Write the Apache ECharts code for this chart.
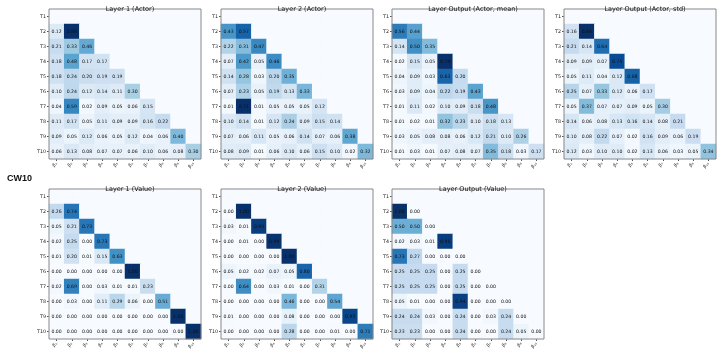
<!DOCTYPE html>
<html>
<head>
<meta charset="utf-8">
<script src="https://cdn.jsdelivr.net/npm/echarts@6/dist/echarts.min.js"></script>
<style>html,body{margin:0;padding:0;background:#fff;}#c{width:720px;height:352px;}</style>
</head>
<body>
<div id="c"></div>
<script>
const rowLabels = ['T1','T2','T3','T4','T5','T6','T7','T8','T9','T10'];
const colLabels = ['β₁','β₂','β₃','β₄','β₅','β₆','β₇','β₈','β₉','β₁₀'];
const titles = ['Layer 1 (Actor)','Layer 2 (Actor)','Layer Output (Actor, mean)','Layer Output (Actor, std)','Layer 1 (Value)','Layer 2 (Value)','Layer Output (Value)'];

const layer1Actor = [
  [],
  [0.12,0.88],
  [0.21,0.33,0.46],
  [0.18,0.48,0.17,0.17],
  [0.18,0.24,0.20,0.19,0.19],
  [0.10,0.24,0.12,0.14,0.11,0.30],
  [0.04,0.59,0.02,0.09,0.05,0.06,0.15],
  [0.11,0.17,0.05,0.11,0.09,0.09,0.16,0.22],
  [0.09,0.05,0.12,0.06,0.05,0.12,0.04,0.06,0.40],
  [0.06,0.13,0.08,0.07,0.07,0.06,0.10,0.06,0.08,0.30]
];
const layer2Actor = [
  [],
  [0.43,0.57],
  [0.22,0.31,0.47],
  [0.07,0.42,0.05,0.46],
  [0.14,0.28,0.03,0.20,0.35],
  [0.07,0.23,0.05,0.19,0.13,0.33],
  [0.01,0.71,0.01,0.05,0.05,0.05,0.12],
  [0.10,0.14,0.01,0.12,0.24,0.09,0.15,0.14],
  [0.07,0.06,0.11,0.05,0.06,0.14,0.07,0.06,0.38],
  [0.08,0.09,0.01,0.06,0.10,0.06,0.15,0.10,0.02,0.32]
];
const outActorMean = [
  [],
  [0.56,0.44],
  [0.14,0.50,0.35],
  [0.02,0.15,0.05,0.79],
  [0.04,0.09,0.03,0.63,0.20],
  [0.03,0.09,0.04,0.22,0.19,0.43],
  [0.01,0.11,0.02,0.10,0.09,0.18,0.48],
  [0.01,0.02,0.01,0.32,0.23,0.10,0.18,0.13],
  [0.03,0.05,0.08,0.08,0.06,0.12,0.21,0.10,0.26],
  [0.01,0.03,0.01,0.07,0.08,0.07,0.35,0.18,0.03,0.17]
];
const outActorStd = [
  [],
  [0.16,0.84],
  [0.21,0.14,0.64],
  [0.09,0.09,0.07,0.75],
  [0.05,0.11,0.04,0.12,0.68],
  [0.25,0.07,0.33,0.12,0.06,0.17],
  [0.05,0.37,0.07,0.07,0.09,0.05,0.30],
  [0.14,0.06,0.08,0.13,0.16,0.14,0.08,0.21],
  [0.10,0.08,0.22,0.07,0.02,0.16,0.09,0.06,0.19],
  [0.12,0.03,0.10,0.10,0.02,0.13,0.06,0.03,0.05,0.34]
];
const layer1Value = [
  [],
  [0.26,0.74],
  [0.05,0.21,0.73],
  [0.02,0.25,0.00,0.73],
  [0.01,0.20,0.01,0.15,0.63],
  [0.00,0.00,0.00,0.00,0.00,1.00],
  [0.02,0.69,0.00,0.03,0.01,0.01,0.23],
  [0.00,0.03,0.00,0.11,0.29,0.06,0.00,0.51],
  [0.00,0.00,0.00,0.00,0.00,0.00,0.00,0.00,1.00],
  [0.00,0.00,0.00,0.00,0.00,0.00,0.00,0.00,0.00,1.00]
];
const layer2Value = [
  [],
  [0.00,1.00],
  [0.03,0.01,0.95],
  [0.00,0.01,0.00,0.99],
  [0.00,0.00,0.00,0.00,1.00],
  [0.05,0.02,0.02,0.07,0.05,0.80],
  [0.00,0.64,0.00,0.03,0.01,0.00,0.31],
  [0.00,0.00,0.00,0.00,0.46,0.00,0.00,0.54],
  [0.01,0.00,0.00,0.00,0.08,0.00,0.00,0.00,0.92],
  [0.00,0.00,0.00,0.00,0.28,0.00,0.00,0.01,0.00,0.71]
];
const outValue = [
  [],
  [1.00,0.00],
  [0.50,0.50,0.00],
  [0.02,0.03,0.01,0.95],
  [0.73,0.27,0.00,0.00,0.00],
  [0.25,0.25,0.25,0.00,0.25,0.00],
  [0.25,0.25,0.25,0.00,0.25,0.00,0.00],
  [0.05,0.01,0.00,0.00,0.94,0.00,0.00,0.00],
  [0.24,0.24,0.03,0.00,0.24,0.00,0.03,0.24,0.00],
  [0.23,0.23,0.00,0.00,0.24,0.00,0.00,0.24,0.05,0.00]
];
const panels = [layer1Actor, layer2Actor, outActorMean, outActorStd, layer1Value, layer2Value, outValue];

const blues = ['#f7fbff','#deebf7','#c6dbef','#9ecae1','#6baed6','#4292c6','#2171b5','#08519c','#08306b'];
const lefts = [49, 221, 392, 564];
const W = 152, TOPS = [9, 189], H = 150;
const font = 'DejaVu Sans';

const grid = [], xAxis = [], yAxis = [], series = [], visualMap = [], title = [];
panels.forEach((mat, p) => {
  const r = p < 4 ? 0 : 1, c = p < 4 ? p : p - 4;
  grid.push({left: lefts[c], top: TOPS[r], width: W, height: H, show: true, borderColor: '#888', borderWidth: 1, backgroundColor: 'transparent', z: 5});
  xAxis.push({type: 'category', gridIndex: p, data: colLabels, position: 'bottom',
    axisLine: {show: false}, axisTick: {show: true, alignWithLabel: true, length: 2, lineStyle: {color: '#555'}},
    axisLabel: {fontSize: 4.5, rotate: 45, color: '#222', fontFamily: font, margin: 4}, splitLine: {show: false}});
  yAxis.push({type: 'category', gridIndex: p, data: rowLabels, inverse: true,
    axisLine: {show: false}, axisTick: {show: true, alignWithLabel: true, length: 2, lineStyle: {color: '#555'}},
    axisLabel: {fontSize: 4.8, color: '#222', fontFamily: font, margin: 3}, splitLine: {show: false}});
  const data = [];
  let mx = 0;
  for (let i = 0; i < 10; i++) {
    for (let j = 0; j < 10; j++) {
      const v = (j < mat[i].length) ? mat[i][j] : 0;
      mx = Math.max(mx, v);
      const lab = j < mat[i].length;
      data.push({value: [j, i, v], label: {show: lab}});
    }
  }
  series.push({type: 'heatmap', xAxisIndex: p, yAxisIndex: p, data: data,
    label: {show: true, fontSize: 4.6, color: '#111', fontFamily: font, formatter: (d) => d.value[2].toFixed(2)},
    itemStyle: {borderWidth: 0}, emphasis: {disabled: true}});
  visualMap.push({type: 'continuous', show: false, min: 0, max: mx, seriesIndex: p, dimension: 2, inRange: {color: blues}});
  title.push({text: titles[p], left: lefts[c] + W / 2, top: TOPS[r] - 8, textAlign: 'center',
    textStyle: {fontSize: 6.5, fontWeight: 'normal', color: '#111', fontFamily: font}});
});
title.push({text: 'CW10', left: 2, top: 169, textStyle: {fontSize: 9, fontWeight: 'bold', color: '#111', fontFamily: 'Liberation Sans'}});

const chart = echarts.init(document.getElementById('c'), null, {renderer: 'canvas'});
chart.setOption({animation: false, backgroundColor: '#fff', title, grid, xAxis, yAxis, series, visualMap});
</script>
</body>
</html>
